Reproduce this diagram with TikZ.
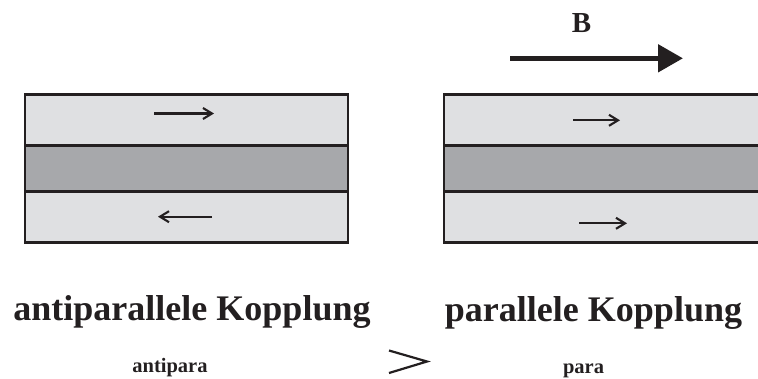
\documentclass[tikz,border=0pt]{standalone}
\usepackage{fontspec}
\setmainfont{Liberation Serif}
\usetikzlibrary{arrows.meta}
\definecolor{layerlight}{HTML}{DFE0E2}
\definecolor{layerdark}{HTML}{A7A8AB}
\definecolor{ink}{HTML}{231F20}
\tikzset{
  edge/.style={draw=ink, line width=2.8pt},
  spin/.style={draw=ink, line width=2.1pt, -{Straight Barb[length=9pt,width=11pt,line width=2.1pt]}},
  field/.style={draw=ink, line width=5pt, -{Triangle[length=25pt,width=27pt]}},
  title/.style={inner sep=0pt, anchor=base, text=ink, font=\bfseries\fontsize{36}{40}\selectfont},
  sub/.style={inner sep=0pt, anchor=base, text=ink, font=\bfseries\fontsize{20.5}{24}\selectfont},
}
\begin{document}
\begin{tikzpicture}[x=1pt, y=-1pt]
  \useasboundingbox (0,0) rectangle (758,378);
  \clip (0,0) rectangle (758,378);

  % left stack: ferromagnet / spacer / ferromagnet
  \fill[layerlight] (25,94.7) rectangle (348,145.7);
  \fill[layerdark]  (25,145.7) rectangle (348,191.3);
  \fill[layerlight] (25,191.3) rectangle (348,242.5);
  \draw[edge] (25,94.7) rectangle (348,242.5);
  \draw[edge] (25,145.7) -- (348,145.7);
  \draw[edge] (25,191.3) -- (348,191.3);

  % right stack, running past the right edge
  \fill[layerlight] (444,94.7) rectangle (775,145.7);
  \fill[layerdark]  (444,145.7) rectangle (775,191.3);
  \fill[layerlight] (444,191.3) rectangle (775,242.5);
  \draw[edge] (775,94.7) -- (444,94.7) -- (444,242.5) -- (775,242.5);
  \draw[edge] (444,145.7) -- (775,145.7);
  \draw[edge] (444,191.3) -- (775,191.3);

  % magnetisation arrows
  \coordinate (la1) at (154,113.5); \coordinate (lb1) at (214,113.5);
  \coordinate (la2) at (212,216.7); \coordinate (lb2) at (158,216.7);
  \coordinate (ra1) at (573,120.3); \coordinate (rb1) at (620,120.3);
  \coordinate (ra2) at (579,223.3); \coordinate (rb2) at (627,223.3);
  \draw[spin] (la1) -- (lb1);
  \draw[spin] (la2) -- (lb2);
  \draw[spin] (ra1) -- (rb1);
  \draw[spin] (ra2) -- (rb2);

  % external field
  \coordinate (bstart) at (510,58.3);
  \coordinate (bend) at (683,58.3);
  \draw[field] (bstart) -- (bend);
  \node[inner sep=0pt, anchor=base, text=ink, font=\bfseries\fontsize{29}{33}\selectfont] (blabel) at (581.5,32) {B};

  % captions
  \node[title] (tanti) at (192,320) {antiparallele Kopplung};
  \node[title] (tpara) at (593.5,321) {parallele Kopplung};
  \node[sub] (santi) at (170,372) {antipara};
  \node[sub] (spara) at (583.5,373) {para};

  % comparison sign
  \coordinate (gt1) at (389,350.5);
  \coordinate (gt2) at (427,361.5);
  \coordinate (gt3) at (389,373);
  \draw[draw=ink, line width=2.2pt] (gt1) -- (gt2) -- (gt3);
\end{tikzpicture}
\end{document}
